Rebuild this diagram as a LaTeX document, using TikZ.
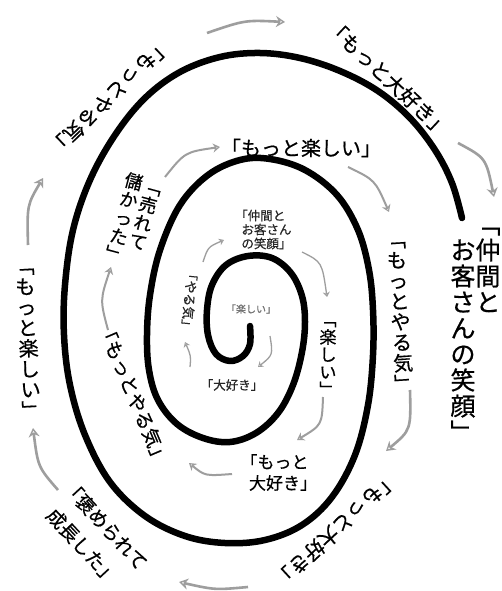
\documentclass[tikz,border=0pt]{standalone}
\usepackage{fontspec}
\newfontfamily\jp[FakeBold=0.6]{Noto Sans CJK JP}
\usetikzlibrary{arrows.meta}
\newcommand\fsz[2]{\fontsize{#1}{#2}\selectfont}
\newcommand\js{\rule[-0.12em]{0pt}{1em}}
\tikzset{
  spiral/.style={line width=6.5pt, line cap=round, line join=round, black},
  lab/.style={inner sep=0pt, outer sep=0pt, text=black},
  vlab/.style={lab, align=center},
  arrO/.style={draw=black!38, line width=2.6pt, -{Stealth[open, length=9pt, width=11pt, line width=1.4pt]}},
  arrM/.style={draw=black!38, line width=2pt, -{Stealth[open, length=7pt, width=9pt, line width=1.2pt]}},
  arrI/.style={draw=black!38, line width=1.3pt, -{Stealth[open, length=5pt, width=7pt, line width=1pt]}},
}
\begin{document}
\begin{tikzpicture}[x=1pt, y=-1pt]
\fill[white] (0,0) rectangle (501,591);
\useasboundingbox (0,0) rectangle (501,591);

% spiral
\draw[spiral] plot[smooth, tension=0.6] coordinates {
(250,326) (250,344) (243,356) (230,361) (216,354) (208,335) (207,310) (212,285)
(226,265) (248,256) (272,258) (291,273) (302,296) (305,322) (302,352) (293,385)
(278,413) (256,433) (230,442) (203,438) (177,424) (158,400) (149,370) (147,335)
(150,295) (160,250) (180,205) (208,175) (240,160) (270,159) (305,170) (337,195)
(358,230) (369,270) (373,310) (373,355) (368,405) (355,455) (332,497) (302,525)
(265,540) (225,543) (185,536) (145,516) (110,482) (85,435) (70,385) (64,335)
(65,285) (73,230) (90,180) (115,135) (145,98) (180,72) (220,57) (260,53)
(300,58) (340,71) (378,91) (410,118) (435,150) (452,183) (462,218)};

% ---- inner labels
\node[lab, font=\jp\fsz{10}{10}, text=black!55] (p) at (251,309) {「楽しい」};
\node[lab, font=\jp\fsz{12.5}{14}, text=black!85] (n) at (232,385) {「大好き」};
\node[lab, font=\jp\fsz{13}{14}, text=black!85, rotate=-95] (o) at (189.5,300) {「やる気」};
\node[lab, align=left, font=\jp\fsz{12.5}{14}, text=black!85] (l) at (266.5,229.5)
  {\hspace*{-0.5em}「仲間と\\お客さん\\の笑顔」};
\node[vlab, font=\jp\fsz{17}{17.5}] (m) at (328,354.5)
  {\js ﹁\\\js 楽\\\js し\\\js い\\\js ﹂};

% ---- middle labels
\node[lab, align=left, font=\jp\fsz{17}{21}] (i) at (283,472.5)
  {\hspace*{-0.5em}「もっと\\大好き」};
\node[lab, font=\jp\fsz{19}{19}, rotate=-67] (j) at (133.5,394) {「もっとやる気」};
\node[vlab, font=\jp\fsz{18}{19}, rotate=-15] (k1) at (145.5,214)
  {\js ﹁\\\js 売\\\js れ\\\js て};
\node[vlab, font=\jp\fsz{18}{19}, rotate=-15] (k2) at (123.8,218.1)
  {\js 儲\\\js か\\\js っ\\\js た\\\js ﹂};
\node[lab, font=\jp\fsz{20}{20}] (g) at (301,148) {「もっと楽しい」};
\node[vlab, font=\jp\fsz{20}{20.6}, rotate=3.5] (h) at (400,311.5)
  {\js ﹁\\\js も\\\js っ\\\js と\\\js や\\\js る\\\js 気\\\js ﹂};

% ---- outer labels
\node[lab, font=\jp\fsz{20}{20}, rotate=-136] (a) at (110,97) {「もっとやる気」};
\node[lab, font=\jp\fsz{20}{20}, rotate=-43] (b) at (388,78) {「もっと大好き」};
\node[vlab, font=\jp\fsz{25}{26}] (c1) at (488,263)
  {\js ﹁\\\js 仲\\\js 間\\\js と};
\node[vlab, font=\jp\fsz{25}{26}] (c2) at (463,341)
  {\js お\\\js 客\\\js さ\\\js ん\\\js の\\\js 笑\\\js 顔\\\js ﹂};
\node[lab, font=\jp\fsz{20}{20}, rotate=-137] (d) at (336,530) {「もっと大好き」};
\node[lab, align=left, font=\jp\fsz{19}{31}, rotate=-47] (e) at (97,539)
  {\hspace*{-0.5em}「褒められて\\成長した」};
\node[vlab, font=\jp\fsz{20}{20.6}, rotate=3] (f) at (28,338)
  {\js ﹁\\\js も\\\js っ\\\js と\\\js 楽\\\js し\\\js い\\\js ﹂};

% ---- arrow end points
\coordinate (s1) at (270,336); \coordinate (q1) at (273,355); \coordinate (e1) at (258,367);
\coordinate (s2) at (190,367); \coordinate (q2) at (191,356); \coordinate (e2) at (185,342);
\coordinate (s3) at (203,262); \coordinate (q3) at (208,247); \coordinate (e3) at (224,240);
\coordinate (s4) at (302,252); \coordinate (q4) at (322,262); \coordinate (e4) at (327,297);
\coordinate (s5) at (323,397); \coordinate (q5) at (322,425); \coordinate (e5) at (297,440);
\coordinate (s6) at (232,474); \coordinate (q6) at (205,476); \coordinate (e6) at (189,463);
\coordinate (s7) at (108,330); \coordinate (q7) at (100,300); \coordinate (e7) at (111,267);
\coordinate (s8) at (165,177); \coordinate (q8) at (185,152); \coordinate (e8) at (220,147);
\coordinate (s9) at (348,167); \coordinate (q9) at (375,180); \coordinate (e9) at (389,212);
\coordinate (s10) at (410,390); \coordinate (q10) at (411,430); \coordinate (e10) at (386,451);
\coordinate (s11) at (248,587); \coordinate (q11) at (215,590); \coordinate (e11) at (179,582);
\coordinate (s12) at (58,490); \coordinate (q12) at (38,467); \coordinate (e12) at (33,428);
\coordinate (s13) at (28,245); \coordinate (q13) at (27,205); \coordinate (e13) at (43,178);
\coordinate (s14) at (207,33); \coordinate (q14) at (245,20); \coordinate (e14) at (285,22);
\coordinate (s15) at (458,143); \coordinate (q15) at (486,158); \coordinate (e15) at (494,197);

\draw[arrI] (s1) .. controls (q1) .. (e1);
\draw[arrI] (s2) .. controls (q2) .. (e2);
\draw[arrI] (s3) .. controls (q3) .. (e3);
\draw[arrI] (s4) .. controls (q4) .. (e4);
\draw[arrM] (s5) .. controls (q5) .. (e5);
\draw[arrM] (s6) .. controls (q6) .. (e6);
\draw[arrM] (s7) .. controls (q7) .. (e7);
\draw[arrM] (s8) .. controls (q8) .. (e8);
\draw[arrM] (s9) .. controls (q9) .. (e9);
\draw[arrO] (s10) .. controls (q10) .. (e10);
\draw[arrO] (s11) .. controls (q11) .. (e11);
\draw[arrO] (s12) .. controls (q12) .. (e12);
\draw[arrO] (s13) .. controls (q13) .. (e13);
\draw[arrO] (s14) .. controls (q14) .. (e14);
\draw[arrO] (s15) .. controls (q15) .. (e15);
\end{tikzpicture}
\end{document}
